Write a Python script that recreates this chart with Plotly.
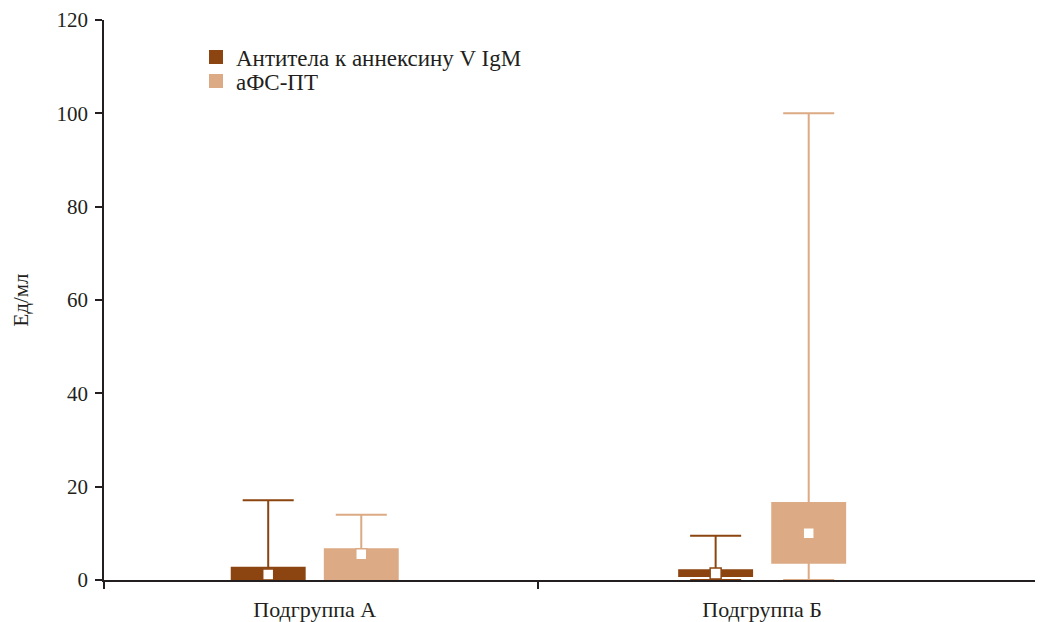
import plotly.graph_objects as go

groups = ["Подгруппа А", "Подгруппа Б"]
series_names = ["Антитела к аннексину V IgM", "аФС-ПТ"]

# per series: values for [Подгруппа А, Подгруппа Б]
anti_q1 = [0.0, 0.86]
anti_median = [1.2, 1.4]
anti_q3 = [2.6, 2.1]
anti_low = [0.0, 0.0]
anti_high = [17.1, 9.5]

afs_q1 = [0.0, 3.7]
afs_median = [5.5, 10.0]
afs_q3 = [6.6, 16.5]
afs_low = [0.0, 0.0]
afs_high = [14.0, 100.0]

y_ticks = [0, 20, 40, 60, 80, 100, 120]

colors = ["#8C4511", "#DCAA84"]
FONT = "Liberation Serif"
TXT = "#231f20"
OFFSET = 0.104
BOXW = 0.163

series = [
    (anti_q1, anti_median, anti_q3, anti_low, anti_high),
    (afs_q1, afs_median, afs_q3, afs_low, afs_high),
]
legend_ids = ["legend", "legend2"]

fig = go.Figure()
for si, (q1, med, q3, lo, hi) in enumerate(series):
    xs = [gi + (2 * si - 1) * OFFSET for gi in range(len(groups))]
    fig.add_trace(go.Box(
        x=xs, q1=q1, median=med, q3=q3, lowerfence=lo, upperfence=hi,
        name=series_names[si], width=BOXW, whiskerwidth=0.7,
        fillcolor=colors[si], line=dict(color=colors[si], width=2),
        boxpoints=False, hoverinfo="skip", legend=legend_ids[si],
    ))
for si, (q1, med, q3, lo, hi) in enumerate(series):
    xs = [gi + (2 * si - 1) * OFFSET for gi in range(len(groups))]
    fig.add_trace(go.Scatter(
        x=xs, y=med, mode="markers", showlegend=False, hoverinfo="skip",
        marker=dict(symbol="square", size=11, color="white",
                    line=dict(color=colors[si], width=1.5)),
    ))

leg_common = dict(xanchor="left", yanchor="middle", bgcolor="rgba(0,0,0,0)",
                  font=dict(size=23, family=FONT, color=TXT))
x0, x1 = -0.471, 1.612
fig.update_layout(
    width=1043, height=622,
    margin=dict(l=96, r=15, t=12, b=50, autoexpand=False),
    plot_bgcolor="white", paper_bgcolor="white",
    font=dict(family=FONT, size=21, color=TXT),
    showlegend=True,
    legend=dict(x=0.0987, y=0.934, **leg_common),
    legend2=dict(x=0.0987, y=0.891, **leg_common),
    xaxis=dict(range=[x0, x1], tickvals=[0, 1], ticktext=groups,
               showline=True, linecolor=TXT, linewidth=1.5, ticks="",
               showgrid=False, zeroline=False, ticklabelstandoff=9,
               automargin=False,
               minor=dict(tickvals=[x0, 0.5, x1], ticks="outside", ticklen=7,
                          tickcolor=TXT, tickwidth=1.5, showgrid=False),
               tickfont=dict(size=22)),
    yaxis=dict(range=[0, 120], tickvals=y_ticks, showline=True, linecolor=TXT,
               linewidth=1.5, ticks="outside", ticklen=7, tickcolor=TXT,
               tickwidth=1.5, showgrid=False, zeroline=False,
               ticklabelstandoff=3, automargin=False,
               title=dict(text="Ед/мл", standoff=22, font=dict(size=21)),
               tickfont=dict(size=21)),
)

fig.write_html("out.html")
